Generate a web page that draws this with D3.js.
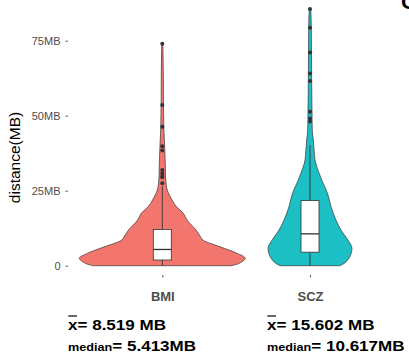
<!DOCTYPE html>
<html>
<head>
<meta charset="utf-8">
<script src="https://cdn.jsdelivr.net/npm/d3@7"></script>
<style>
  body { margin: 0; background: #fff; }
  text { font-family: "Liberation Sans", Arial, sans-serif; }
</style>
</head>
<body>
<svg id="chart" width="409" height="360"></svg>
<script>
// categories
var groups = ["BMI", "SCZ"]

// violin outlines: distance (MB) and relative density
var bmiDist    = [0, 0.8, 2.5, 4.1, 5.8, 7.2, 8.6, 10.3, 11.9, 15.2, 17.5, 19.7, 21.9, 25.2, 28.6, 34, 40, 46, 55, 65, 74]
var bmiDensity = [0.831, 0.928, 1.0, 0.904, 0.747, 0.602, 0.488, 0.446, 0.406, 0.298, 0.253, 0.169, 0.117, 0.060, 0.042, 0.036, 0.028, 0.019, 0.014, 0.012, 0.007]
var sczDist    = [0, 1, 2.5, 4.5, 6.3, 9, 11.9, 15.2, 19.7, 24.1, 28.6, 31, 33, 35.2, 37.5, 41.9, 44.2, 51.9, 61.9, 71.9, 81.9, 85.6]
var sczDensity = [0.361, 0.422, 0.470, 0.500, 0.502, 0.446, 0.373, 0.313, 0.253, 0.211, 0.141, 0.108, 0.081, 0.060, 0.052, 0.040, 0.030, 0.024, 0.020, 0.018, 0.014, 0.010]

// box plot stats
var q1        = [1.9, 4.5]
var medians   = [5.413, 10.617]
var q3        = [12.1, 21.7]
var whiskerLo = [0, 0]
var whiskerHi = [26.5, 40.2]

// outliers
var bmiOutliers = [74.0, 53.6, 46.3, 39.8, 38.4, 31.9, 30.8, 29.9, 29.5, 27.5]
var sczOutliers = [85.6, 79.3, 71.1, 64.1, 61.6, 51.3, 49.1, 48.1]

// summary labels
var meanLabels   = ["8.519 MB", "15.602 MB"]
var medianLabels = ["5.413MB", "10.617MB"]

// y ticks
var yTicks      = [0, 25, 50, 75]
var yTickLabels = ["0", "25MB", "50MB", "75MB"]

var fills = ["#F2766E", "#1BBFC4"]

var svg = d3.select("#chart")

var x = d3.scalePoint().domain(groups).range([162.3, 310])
var y = d3.scaleLinear().domain([0, 75]).range([265.7, 40.7])
var w = d3.scaleLinear().domain([0, 1]).range([0, 83])

var violins = [
  {dist: bmiDist, dens: bmiDensity, out: bmiOutliers},
  {dist: sczDist, dens: sczDensity, out: sczOutliers}
]

// y axis (ticks and labels only)
var yAxis = d3.axisLeft(y)
    .tickValues(yTicks)
    .tickFormat(function(d, i) { return yTickLabels[i]; })
    .tickSize(2.5)
    .tickPadding(5)

var gy = svg.append("g")
    .attr("transform", "translate(68,0)")
    .call(yAxis)
gy.select(".domain").remove()
gy.selectAll("line").attr("stroke", "#333").attr("stroke-width", 0.8)
gy.selectAll("text")
    .attr("fill", "#4D4D4D")
    .style("font-size", "11px")
    .style("font-family", "Liberation Sans, Arial, sans-serif")

// x axis
var xAxis = d3.axisBottom(x).tickSize(2.5).tickPadding(14)
var gx = svg.append("g")
    .attr("transform", "translate(0,275)")
    .call(xAxis)
gx.select(".domain").remove()
gx.selectAll("line").attr("stroke", "#333").attr("stroke-width", 0.8)
gx.selectAll("text")
    .attr("fill", "#4D4D4D")
    .style("font-size", "13px")
    .style("font-weight", "bold")
    .style("font-family", "Liberation Sans, Arial, sans-serif")

// axis title
svg.append("text")
    .text("distance(MB)")
    .attr("transform", "translate(19.5,157.5) rotate(-90)")
    .attr("text-anchor", "middle")
    .attr("fill", "#000")
    .style("font-size", "15.5px")

// violins, boxes, outliers
violins.forEach(function(v, i) {
  var cx = x(groups[i])
  var pts = v.dist.map(function(d, j) { return {v: d, d: v.dens[j]}; })

  var area = d3.area()
      .y(function(d) { return y(d.v); })
      .x0(function(d) { return cx - w(d.d); })
      .x1(function(d) { return cx + w(d.d); })
      .curve(d3.curveCatmullRom)

  svg.append("path")
      .datum(pts)
      .attr("d", area)
      .attr("fill", fills[i])
      .attr("stroke", "#333")
      .attr("stroke-width", 0.7)

  // whiskers
  svg.append("line")
      .attr("x1", cx).attr("x2", cx)
      .attr("y1", y(whiskerLo[i])).attr("y2", y(q1[i]))
      .attr("stroke", "#333").attr("stroke-width", 0.9)
  svg.append("line")
      .attr("x1", cx).attr("x2", cx)
      .attr("y1", y(q3[i])).attr("y2", y(whiskerHi[i]))
      .attr("stroke", "#333").attr("stroke-width", 0.9)

  // box
  svg.append("rect")
      .attr("x", cx - 9)
      .attr("y", y(q3[i]))
      .attr("width", 18)
      .attr("height", y(q1[i]) - y(q3[i]))
      .attr("fill", "#fff")
      .attr("stroke", "#333")
      .attr("stroke-width", 0.8)
  svg.append("line")
      .attr("x1", cx - 9).attr("x2", cx + 9)
      .attr("y1", y(medians[i])).attr("y2", y(medians[i]))
      .attr("stroke", "#333").attr("stroke-width", 1.3)

  svg.selectAll(null)
      .data(v.out)
      .join("circle")
      .attr("cx", cx)
      .attr("cy", function(d) { return y(d); })
      .attr("r", 2)
      .attr("fill", "#333")
})

// mean / median summaries under each group
var textX = [68, 267]
groups.forEach(function(g, i) {
  var gm = svg.append("g")
      .attr("transform", "translate(" + textX[i] + ",330) scale(1.1,1)")
  gm.append("text")
      .text("x= " + meanLabels[i])
      .attr("fill", "#000")
      .style("font-size", "15.5px")
      .style("font-weight", "bold")
  gm.append("line")
      .attr("x1", 0.3).attr("x2", 8.2)
      .attr("y1", -14).attr("y2", -14)
      .attr("stroke", "#000").attr("stroke-width", 1.2)

  var gd = svg.append("g")
      .attr("transform", "translate(" + textX[i] + ",351) scale(1.1,1)")
  var t = gd.append("text")
      .attr("fill", "#000")
      .style("font-weight", "bold")
  t.append("tspan").text("median").style("font-size", "11.5px")
  t.append("tspan").text("= " + medianLabels[i]).style("font-size", "15.5px")
})

// panel tag, cut off at the right edge
svg.append("text")
    .text("C")
    .attr("x", 401)
    .attr("y", 9)
    .attr("fill", "#000")
    .style("font-size", "22px")
    .style("font-weight", "bold")
</script>
</body>
</html>
